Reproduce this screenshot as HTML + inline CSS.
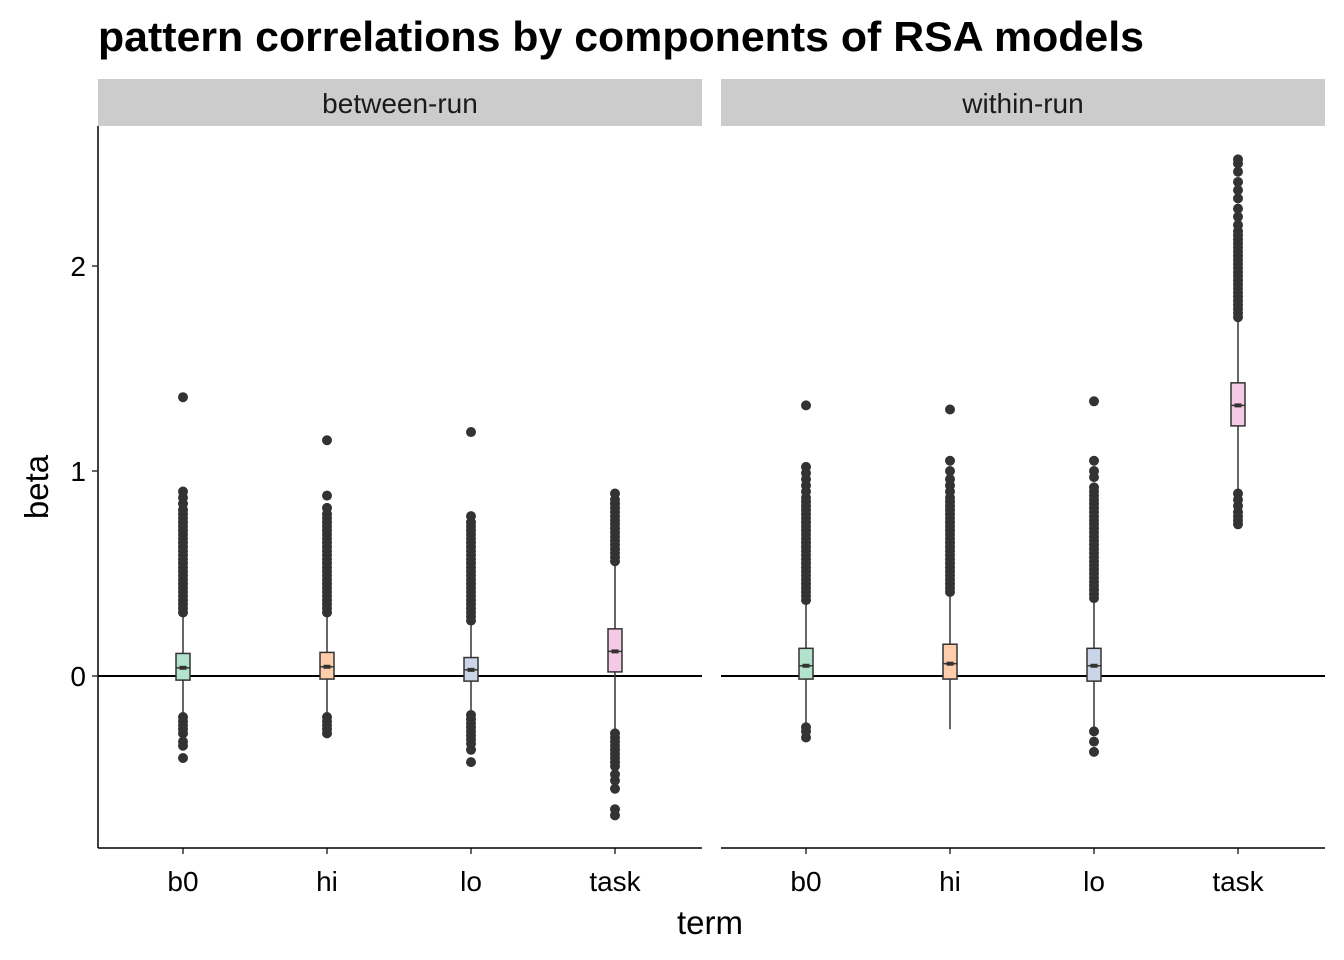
<!DOCTYPE html>
<html><head><meta charset="utf-8"><style>body{margin:0;background:#fff}svg{display:block;font-family:"Liberation Sans",Arial,sans-serif}</style></head>
<body>
<svg id="c" width="1344" height="960">
<text x="98" y="51" font-size="42" font-weight="bold" textLength="1046" lengthAdjust="spacingAndGlyphs">pattern correlations by components of RSA models</text>
</svg>
<script>
const panels=["between-run","within-run"];
const categories=["b0","hi","lo","task"];
const fills=["#b3e2cd","#fdcdac","#cbd5e8","#f4cae4"];
// [q1, median, q3, whiskerLow, whiskerHigh] per panel per term
const stats=[
 [[-0.02,0.04,0.11,-0.19,0.30],[-0.015,0.045,0.115,-0.19,0.30],[-0.025,0.03,0.09,-0.18,0.26],[0.02,0.12,0.23,-0.27,0.55]],
 [[-0.015,0.05,0.135,-0.23,0.36],[-0.015,0.06,0.155,-0.26,0.40],[-0.025,0.05,0.135,-0.25,0.37],[1.22,1.32,1.43,0.91,1.74]]
];
const outliers=[
 [[0.31,0.33,0.35,0.37,0.39,0.41,0.43,0.45,0.47,0.49,0.51,0.53,0.55,0.57,0.59,0.61,0.63,0.65,0.67,0.69,0.71,0.73,0.75,0.77,0.79,0.81,0.84,0.87,0.9,1.36,-0.2,-0.22,-0.24,-0.26,-0.28,-0.32,-0.34,-0.4],
  [0.31,0.33,0.35,0.37,0.39,0.41,0.43,0.45,0.47,0.49,0.51,0.53,0.55,0.57,0.59,0.61,0.63,0.65,0.67,0.69,0.71,0.73,0.75,0.77,0.79,0.82,0.88,1.15,-0.2,-0.22,-0.24,-0.26,-0.28],
  [0.27,0.29,0.31,0.33,0.35,0.37,0.39,0.41,0.43,0.45,0.47,0.49,0.51,0.53,0.55,0.57,0.59,0.61,0.63,0.65,0.67,0.69,0.71,0.73,0.75,0.78,1.19,-0.19,-0.21,-0.23,-0.25,-0.27,-0.29,-0.31,-0.33,-0.36,-0.42],
  [0.56,0.58,0.6,0.62,0.64,0.66,0.68,0.7,0.72,0.74,0.76,0.78,0.8,0.82,0.84,0.86,0.89,-0.28,-0.3,-0.32,-0.34,-0.36,-0.38,-0.4,-0.42,-0.44,-0.48,-0.51,-0.55,-0.65,-0.68]],
 [[0.37,0.39,0.41,0.43,0.45,0.47,0.49,0.51,0.53,0.55,0.57,0.59,0.61,0.63,0.65,0.67,0.69,0.71,0.73,0.75,0.77,0.79,0.81,0.83,0.85,0.87,0.9,0.93,0.96,0.99,1.02,1.32,-0.25,-0.27,-0.3],
  [0.41,0.43,0.45,0.47,0.49,0.51,0.53,0.55,0.57,0.59,0.61,0.63,0.65,0.67,0.69,0.71,0.73,0.75,0.77,0.79,0.81,0.83,0.85,0.87,0.9,0.93,0.96,1.0,1.05,1.30],
  [0.38,0.4,0.42,0.44,0.46,0.48,0.5,0.52,0.54,0.56,0.58,0.6,0.62,0.64,0.66,0.68,0.7,0.72,0.74,0.76,0.78,0.8,0.82,0.84,0.86,0.88,0.9,0.92,0.97,1.0,1.05,1.34,-0.27,-0.32,-0.37],
  [1.75,1.77,1.79,1.81,1.83,1.85,1.87,1.89,1.91,1.93,1.95,1.97,1.99,2.01,2.03,2.05,2.07,2.09,2.11,2.13,2.15,2.17,2.2,2.24,2.28,2.33,2.37,2.41,2.46,2.5,2.52,0.74,0.76,0.78,0.8,0.83,0.86,0.89]]
];
const yTicks=[0,1,2];
const NS="http://www.w3.org/2000/svg",svg=document.getElementById('c');
function el(t,a,p){const e=document.createElementNS(NS,t);for(const k in a)e.setAttribute(k,a[k]);(p||svg).appendChild(e);return e;}
const y=v=>676-v*205;
const panelX=[98,721],panelW=604;
const x=(p,i)=>panelX[p]+85+i*144;
panels.forEach((name,p)=>{
 const g=el('g',{});
 
 
 const s=el('rect',{x:panelX[p],y:79,width:panelW,height:47,fill:'#cccccc'},g);
 
 
 const st=el('text',{x:panelX[p]+panelW/2,y:113,'font-size':28,'text-anchor':'middle',fill:'#1a1a1a'},g);st.textContent=name;
 
 
 const z=el('line',{x1:panelX[p],x2:panelX[p]+panelW,y1:y(0),y2:y(0),stroke:'#000','stroke-width':2},g);
 
 
 categories.forEach((c,i)=>{
  const [q1,md,q3,wl,wh]=stats[p][i],cx=x(p,i);
  const bg=el('g',{},g);
  
  
  el('line',{x1:cx,x2:cx,y1:y(wh),y2:y(wl),stroke:'#333','stroke-width':1.5},bg);
  el('rect',{x:cx-7,y:y(q3),width:14,height:y(q1)-y(q3),fill:fills[i],stroke:'#333','stroke-width':1.5},bg);
  el('line',{x1:cx-7,x2:cx+7,y1:y(md),y2:y(md),stroke:'#333','stroke-width':1.5},bg);
  el('rect',{x:cx-3.5,y:y(md)-2,width:7,height:4,fill:'#333'},bg);
  outliers[p][i].forEach(v=>{const o=el('circle',{cx:cx,cy:y(v),r:5,fill:'#333'},bg);
   
   });
  el('line',{x1:cx,x2:cx,y1:848,y2:854,stroke:'#333','stroke-width':1.5},g);
  const t=el('text',{x:cx,y:891,'font-size':28,'text-anchor':'middle',fill:'#000'},g);t.textContent=c;
  
  
 });
 const xa=el('line',{x1:panelX[p],x2:panelX[p]+panelW,y1:848,y2:848,stroke:'#000','stroke-width':1.5},g);
 
 
});
const ya=el('line',{x1:98,x2:98,y1:126,y2:848,stroke:'#000','stroke-width':1.5});


yTicks.forEach(v=>{el('line',{x1:92,x2:98,y1:y(v),y2:y(v),stroke:'#333','stroke-width':1.5});
 const t=el('text',{x:86,y:y(v)+10,'font-size':28,'text-anchor':'end',fill:'#000'});t.textContent=v;
 
 });
const xt=el('text',{x:710,y:934,'font-size':33,'text-anchor':'middle'});xt.textContent='term';


const yt=el('text',{x:48,y:487,'font-size':33,'text-anchor':'middle',transform:'rotate(-90 48 487)'});yt.textContent='beta';


</script>
</body></html>
